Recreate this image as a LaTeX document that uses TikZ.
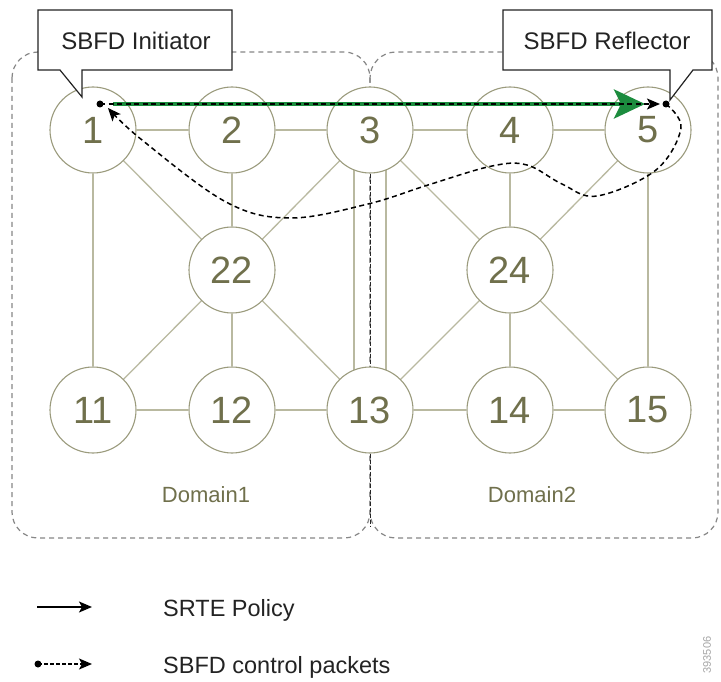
\documentclass[tikz,border=0pt]{standalone}
\usepackage{fontspec}
\setmainfont{Liberation Sans}
\usetikzlibrary{arrows.meta,backgrounds}
\definecolor{edgec}{RGB}{185,185,160}
\definecolor{ringc}{RGB}{155,155,125}
\definecolor{numc}{RGB}{112,112,76}
\definecolor{domc}{RGB}{135,135,135}
\definecolor{polc}{RGB}{28,140,62}
\definecolor{txtc}{RGB}{35,35,35}
\begin{document}
\begin{tikzpicture}[x=1pt,y=-1pt,
  rtr/.style={circle,draw=ringc,line width=1.1pt,fill=white,minimum size=86pt,inner sep=0pt,text=numc,font=\fontsize{38}{40}\selectfont},
  lnk/.style={draw=edgec,line width=1.3pt},
  dom/.style={draw=domc,dash pattern=on 5pt off 4pt,line width=1.2pt,rounded corners=26pt},
  callout/.style={draw=txtc,fill=white,line width=1.2pt},
  ctext/.style={text=txtc,inner sep=0pt,font=\fontsize{24}{26}\selectfont},
  dlabel/.style={text=numc,inner sep=0pt,font=\fontsize{22}{24}\selectfont},
  legtext/.style={text=txtc,inner sep=0pt,anchor=base west,font=\fontsize{23.5}{26}\selectfont},
  pkt/.style={draw=black,dash pattern=on 5pt off 3.5pt,line width=1.5pt},
  blktip/.style={-{Stealth[length=13pt,width=11pt,inset=3pt]}}
]
\useasboundingbox (0,0) rectangle (721,682);

% routers
\node[rtr] (n1) at (93,130) {1};
\node[rtr] (n2) at (232,130) {2};
\node[rtr] (n3) at (370,130) {3};
\node[rtr] (n4) at (510,130) {4};
\node[rtr] (n5) at (648,130) {5};
\node[rtr] (n22) at (232,270) {22};
\node[rtr] (n24) at (510,270) {24};
\node[rtr] (n11) at (93,410) {11};
\node[rtr] (n12) at (232,410) {12};
\node[rtr] (n13) at (370,410) {13};
\node[rtr] (n14) at (510,410) {14};
\node[rtr] (n15) at (648,410) {15};

\coordinate (dbot) at (370,527);

\begin{scope}[on background layer]
  \fill[white] (0,0) rectangle (721,682);
  \draw[dom] (12,52) rectangle (370,538);
  \draw[dom] (370,52) rectangle (718,538);
  % links
  \draw[lnk] (n1) -- (n2);
  \draw[lnk] (n2) -- (n3);
  \draw[lnk] (n3) -- (n4);
  \draw[lnk] (n4) -- (n5);
  \draw[lnk] (n1) -- (n11);
  \draw[lnk] (n5) -- (n15);
  \draw[lnk] (n1) -- (n22);
  \draw[lnk] (n2) -- (n22);
  \draw[lnk] (n3) -- (n22);
  \draw[lnk] (n22) -- (n11);
  \draw[lnk] (n22) -- (n12);
  \draw[lnk] (n22) -- (n13);
  \draw[lnk] (n3) -- (n24);
  \draw[lnk] (n4) -- (n24);
  \draw[lnk] (n5) -- (n24);
  \draw[lnk] (n24) -- (n13);
  \draw[lnk] (n24) -- (n14);
  \draw[lnk] (n24) -- (n15);
  \draw[lnk] (n11) -- (n12);
  \draw[lnk] (n12) -- (n13);
  \draw[lnk] (n13) -- (n14);
  \draw[lnk] (n14) -- (n15);
  \draw[lnk] ([xshift=-16pt]n3.center) -- ([xshift=-16pt]n13.center);
  \draw[lnk] ([xshift=16pt]n3.center) -- ([xshift=16pt]n13.center);
  \draw[black!85,dash pattern=on 4pt off 2pt,line width=0.9pt] (n3) -- (n13);
  \draw[black!85,dash pattern=on 4pt off 2pt,line width=0.9pt] (n13) -- (dbot);
\end{scope}

% domain labels
\node[dlabel] (d1) at (206,495) {Domain1};
\node[dlabel] (d2) at (532,495) {Domain2};

% callouts
\draw[callout] (38,10) -- (232,10) -- (232,70) -- (82,70) -- (82,97) -- (60,70) -- (38,70) -- cycle;
\node[ctext] (init) at (136,41) {SBFD Initiator};
\draw[callout] (503,10) -- (712,10) -- (712,70) -- (693,70) -- (670,100) -- (670,70) -- (503,70) -- cycle;
\node[ctext] (refl) at (607,41) {SBFD Reflector};

% SRTE policy and SBFD packets
\coordinate (dI) at (100,104);
\coordinate (dR) at (666,104);
\draw[polc,line width=4.5pt,-{Stealth[length=31pt,width=29pt,inset=7pt]}] ([xshift=13pt]dI) -- ([xshift=-21pt]dR);
\draw[pkt,blktip] (dI) -- ([xshift=-6pt]dR);
\draw[pkt,blktip] plot[smooth,tension=0.6] coordinates {(dR) (681,128) (656,170) (597,196) (562,184) (527,165) (492,166) (428,185) (368,204) (290,218) (226,202) (142,140) (108,108)};
\fill[black] (dI) circle (3.5pt);
\fill[black] (dR) circle (3.5pt);

% legend
\coordinate (l1a) at (37,607);
\coordinate (l1b) at (92,607);
\draw[black,line width=1.6pt,blktip] (l1a) -- (l1b);
\node[legtext] (leg1) at (163,616) {SRTE Policy};
\coordinate (l2a) at (38,664);
\coordinate (l2b) at (92,664);
\draw[pkt,line width=1.2pt,dash pattern=on 3.5pt off 2.5pt,blktip] (l2a) -- (l2b);
\fill[black] (l2a) circle (3.5pt);
\node[legtext] (leg2) at (163,673) {SBFD control packets};

\node[rotate=90,text=gray!70,inner sep=0pt,font=\fontsize{11}{12}\selectfont] (figid) at (707,655) {393506};
\end{tikzpicture}
\end{document}
